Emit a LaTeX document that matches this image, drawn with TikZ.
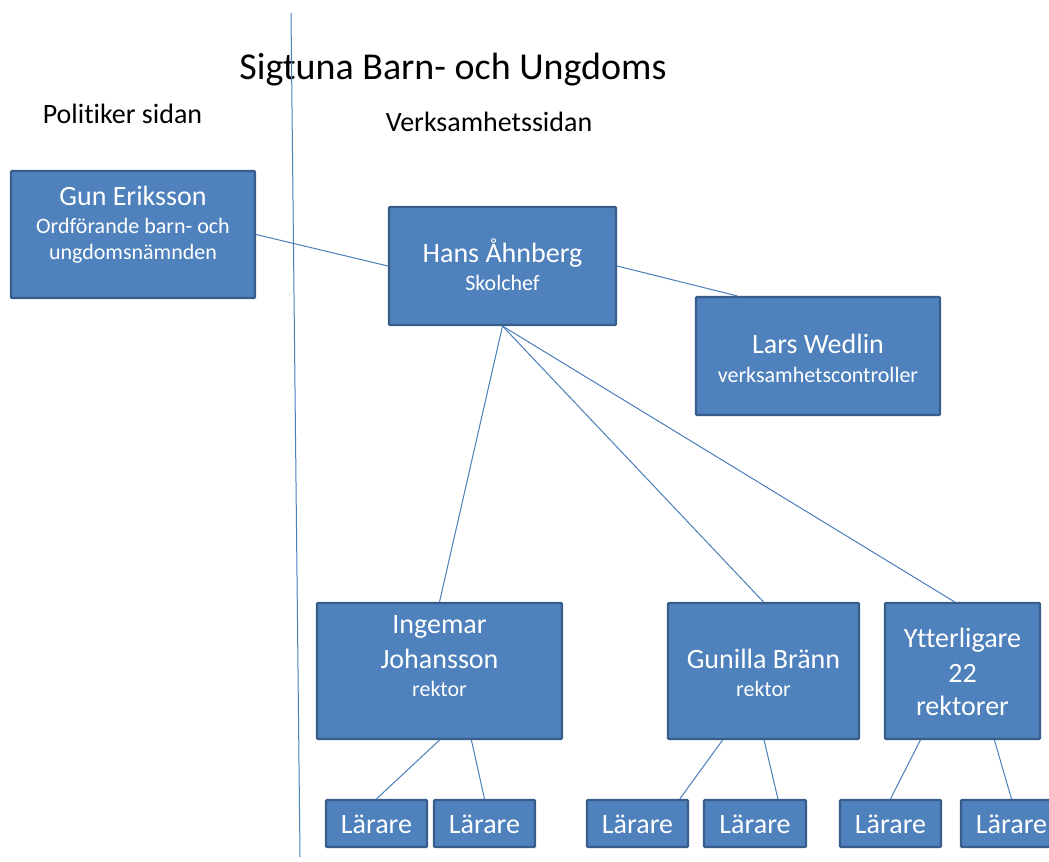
\documentclass[tikz,border=0pt]{standalone}
\usepackage{fontspec}
\setmainfont{Carlito}[Ligatures=NoCommon]
\usetikzlibrary{fit,calc}
\definecolor{boxfill}{HTML}{4F81BD}
\definecolor{boxline}{HTML}{385D8A}
\definecolor{conn}{HTML}{4A7EBB}
\tikzset{
  box/.style={draw=boxline, fill=boxfill, line width=1.6pt, inner sep=0pt, rounded corners=0.6pt},
  conline/.style={draw=conn, line width=0.75pt},
  big/.style={font=\fontsize{21}{25}\selectfont, text=white, anchor=base},
  small/.style={font=\fontsize{16.5}{20}\selectfont, text=white, anchor=base},
  lar/.style={font=\fontsize{21}{25}\selectfont, text=white, anchor=base},
}
\begin{document}
\begin{tikzpicture}[x=0.75pt,y=-0.75pt]
\useasboundingbox (0,0) rectangle (1049,862);
\clip (0,0) rectangle (1049,862);
% header
\node[anchor=base, font=\fontsize{28.5}{34}\selectfont] (title) at (453,80) {Sigtuna Barn- och Ungdoms};
\node[anchor=base, font=\fontsize{21}{25}\selectfont] (pol) at (122.5,124) {Politiker sidan};
\node[anchor=base, font=\fontsize{21}{25}\selectfont] (verk) at (489,132) {Verksamhetssidan};
% divider
\coordinate (divtop) at (291,13);
\coordinate (divbot) at (300,857);
\draw[conline] (divtop) -- (divbot);
% boxes
\node[box, fit={(11,171) (255,298)}] (gun) {};
\node[box, fit={(389,207) (616,325)}] (hans) {};
\node[box, fit={(696,297) (940,415)}] (lars) {};
\node[box, fit={(317,603) (562,739)}] (inge) {};
\node[box, fit={(668,603) (859,739)}] (guni) {};
\node[box, fit={(885,603) (1040,739)}] (ytt) {};
\node[box, fit={(326,800) (427,847)}] (l1) {};
\node[box, fit={(434,800) (535,847)}] (l2) {};
\node[box, fit={(587,800) (688,847)}] (l3) {};
\node[box, fit={(704,800) (806,847)}] (l4) {};
\node[box, fit={(840,800) (941,847)}] (l5) {};
\node[box, fit={(961,800) (1062,847)}] (l6) {};
% texts
\node[big] at (133,205.5) {Gun Eriksson};
\node[small] at (133,234) {Ordförande barn- och};
\node[small] at (133,260) {ungdomsnämnden};
\node[big] at (502.5,263) {Hans Åhnberg};
\node[small] at (502.5,291) {Skolchef};
\node[big] at (818,354) {Lars Wedlin};
\node[small] at (818,383) {verksamhetscontroller};
\node[big] at (439.5,633) {Ingemar};
\node[big] at (439.5,668) {Johansson};
\node[small] at (439.5,696) {rektor};
\node[big] at (763.5,668) {Gunilla Bränn};
\node[small] at (763.5,696) {rektor};
\node[big] at (962.5,647) {Ytterligare};
\node[big] at (962.5,682) {22};
\node[big] at (962.5,715) {rektorer};
\foreach \n in {l1,l2,l3,l4,l5,l6}{\node[lar] at ($(\n.center)+(0,10)$) {Lärare};}
% connectors
\draw[conline] (gun.east) -- (hans.west);
\draw[conline] (hans.east) -- ($(lars.north west)!0.172!(lars.north east)$);
\draw[conline] (hans.south) -- (inge.north);
\draw[conline] (hans.south) -- (guni.north);
\draw[conline] (hans.south) -- ($(ytt.north west)!0.45!(ytt.north east)$);
\draw[conline] (inge.south) -- (l1.north);
\draw[conline] ($(inge.south west)!0.629!(inge.south east)$) -- (l2.north);
\draw[conline] ($(guni.south west)!0.288!(guni.south east)$) -- ($(l3.north west)!0.91!(l3.north east)$);
\draw[conline] ($(guni.south west)!0.503!(guni.south east)$) -- ($(l4.north west)!0.72!(l4.north east)$);
\draw[conline] ($(ytt.south west)!0.232!(ytt.south east)$) -- (l5.north);
\draw[conline] ($(ytt.south west)!0.703!(ytt.south east)$) -- (l6.north);
\end{tikzpicture}
\end{document}
